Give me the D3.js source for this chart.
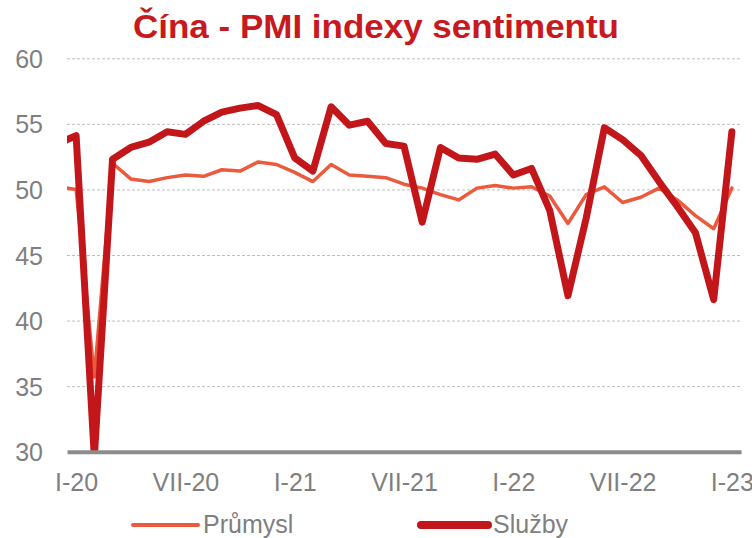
<!DOCTYPE html>
<html>
<head>
<meta charset="utf-8">
<script src="https://cdn.jsdelivr.net/npm/d3@7"></script>
<style>
  body { margin: 0; background: #fff; }
  svg { display: block; font-family: "Liberation Sans", Arial, sans-serif; }
  .axis-text { fill: #7f7f7f; font-size: 25px; }
</style>
</head>
<body>
<div id="chart"></div>
<script>
// monthly data, XII-19 .. I-23 (XII-19 sits just left of the plot and gets clipped)
var roman = ["I","II","III","IV","V","VI","VII","VIII","IX","X","XI","XII"];
var months = ["XII-19"];
for (var yr = 20; yr <= 22; yr++) {
    roman.forEach(r => months.push(r + "-" + yr));
}
months.push("I-23");

var prumysl = [50.2, 50.0, 35.7, 52.0, 50.8, 50.6, 50.9, 51.1, 51.0, 51.5, 51.4, 52.1, 51.9,
               51.3, 50.6, 51.9, 51.1, 51.0, 50.9, 50.4, 50.1, 49.6, 49.2, 50.1, 50.3,
               50.1, 50.2, 49.5, 47.4, 49.6, 50.2, 49.0, 49.4, 50.1, 49.2, 48.0, 47.0,
               50.1];
var sluzby  = [53.5, 54.1, 29.6, 52.3, 53.2, 53.6, 54.4, 54.2, 55.2, 55.9, 56.2, 56.4, 55.7,
               52.4, 51.4, 56.3, 54.9, 55.2, 53.5, 53.3, 47.5, 53.2, 52.4, 52.3, 52.7,
               51.1, 51.6, 48.4, 41.9, 47.8, 54.7, 53.8, 52.6, 50.6, 48.7, 46.7, 41.6,
               54.4];

var xTickLabels = ["I-20", "VII-20", "I-21", "VII-21", "I-22", "VII-22", "I-23"];
var yTicks = [30, 35, 40, 45, 50, 55, 60];

var seriesNames = ["Průmysl", "Služby"];
var colors = ["#ec5a3e", "#c3161a"];
var widths = [3.5, 7];

var svgWidth = 752;
var svgHeight = 538;
var chartMargin = { top: 58.3, left: 67 };
var chartWidth = 674;
var chartHeight = 393.4;

var svg = d3.select("#chart")
    .append("svg")
    .attr("width", svgWidth)
    .attr("height", svgHeight);

// title
svg.append("text")
    .attr("x", 376)
    .attr("y", 38)
    .attr("text-anchor", "middle")
    .attr("font-size", "33px")
    .attr("font-weight", "bold")
    .attr("fill", "#c8191e")
    .attr("textLength", 486)
    .attr("lengthAdjust", "spacingAndGlyphs")
    .text("Čína - PMI indexy sentimentu");

var chartGroup = svg.append("g")
    .attr("transform", `translate(${chartMargin.left}, ${chartMargin.top})`);

var xScale = d3.scaleLinear()
    .domain([0.5, 37.5])
    .range([0, chartWidth]);

var yScale = d3.scaleLinear()
    .domain([30, 60])
    .range([chartHeight, 0]);

// dashed gridlines
chartGroup.append("g")
    .call(d3.axisLeft(yScale).tickValues(yTicks.slice(1)).tickSize(-chartWidth).tickFormat(""))
    .call(g => g.select(".domain").remove())
    .selectAll("line")
    .attr("stroke", "#bdbdbd")
    .attr("stroke-width", 1)
    .attr("stroke-dasharray", "3,2");

// y labels
chartGroup.append("g")
    .call(d3.axisLeft(yScale).tickValues(yTicks).tickSize(0).tickPadding(24))
    .call(g => g.select(".domain").remove())
    .selectAll("text")
    .attr("class", "axis-text")
    .attr("font-family", null)
    .attr("dy", "0.36em");

// lines, clipped to the plot area
svg.append("defs").append("clipPath")
    .attr("id", "plotClip")
    .append("rect")
    .attr("x", 0).attr("y", -10)
    .attr("width", chartWidth)
    .attr("height", chartHeight + 10);

var line = d3.line()
    .x((d, i) => xScale(i))
    .y(d => yScale(d));

var lines = chartGroup.append("g").attr("clip-path", "url(#plotClip)");
[prumysl, sluzby].forEach(function(vals, k) {
    lines.append("path")
        .datum(vals)
        .attr("d", line)
        .attr("fill", "none")
        .attr("stroke", colors[k])
        .attr("stroke-width", widths[k])
        .attr("stroke-linejoin", "round")
        .attr("stroke-linecap", "round");
});

// x axis
var xTickIdx = xTickLabels.map(l => months.indexOf(l));
chartGroup.append("g")
    .attr("transform", `translate(0, ${chartHeight})`)
    .call(d3.axisBottom(xScale).tickValues(xTickIdx).tickSize(0).tickPadding(22)
        .tickFormat(i => months[i]))
    .call(g => g.select(".domain").attr("stroke", "#8c8c8c").attr("stroke-width", 4))
    .selectAll("text")
    .attr("class", "axis-text")
    .attr("font-family", null);

// legend
var legendItems = [
    { x1: 133, x2: 198, tx: 203 },
    { x1: 421, x2: 488, tx: 493 }
];
legendItems.forEach(function(it, k) {
    svg.append("line")
        .attr("x1", it.x1).attr("x2", it.x2)
        .attr("y1", 525).attr("y2", 525)
        .attr("stroke", colors[k])
        .attr("stroke-width", k === 0 ? 4 : 8)
        .attr("stroke-linecap", "round");
    svg.append("text")
        .attr("x", it.tx)
        .attr("y", 533)
        .attr("class", "axis-text")
        .text(seriesNames[k]);
});
</script>
</body>
</html>
